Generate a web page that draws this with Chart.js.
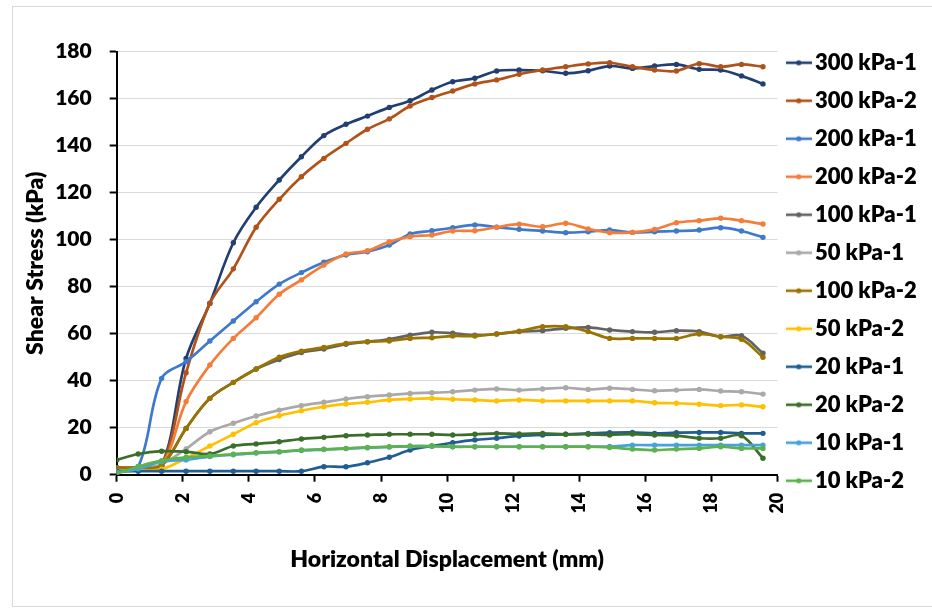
<!DOCTYPE html>
<html>
<head>
<meta charset="utf-8">
<script src="https://cdn.jsdelivr.net/npm/chart.js@4.4.1/dist/chart.umd.min.js"></script>
<style>
  html, body { margin: 0; padding: 0; background: #fff; }
  #wrap { position: relative; width: 932px; height: 608px; overflow: hidden; }
  #frame { position: absolute; left: 12px; top: 6px; right: -2px; bottom: 1px; border: 1px solid #d9d9d9; }
  canvas { position: absolute; left: 0; top: 0; }
</style>
</head>
<body>
<div id="wrap">
  <div id="frame"></div>
  <canvas id="c" width="932" height="608"></canvas>
</div>
<script>
// ---- data ----
const X_MM = [0, 0.65, 1.36, 2.10, 2.82, 3.53, 4.22, 4.92, 5.59, 6.27, 6.94, 7.59, 8.25, 8.88, 9.54,
              10.17, 10.84, 11.50, 12.18, 12.89, 13.59, 14.27, 14.92, 15.61, 16.28, 16.94, 17.63, 18.28, 18.91, 19.56];

const SERIES_NAMES = ['300 kPa-1', '300 kPa-2', '200 kPa-1', '200 kPa-2', '100 kPa-1', '50 kPa-1',
                      '100 kPa-2', '50 kPa-2', '20 kPa-1', '20 kPa-2', '10 kPa-1', '10 kPa-2'];

const S300_1 = [2.5, 2.5, 3.8, 49.5, 73.0, 98.7, 113.8, 125.4, 135.3, 144.3, 149.1, 152.6, 156.3, 159.1, 163.7,
                167.2, 168.7, 171.8, 172.2, 171.9, 170.8, 171.9, 173.9, 172.9, 173.9, 174.6, 172.5, 172.2, 169.7, 166.3];
const S300_2 = [3.0, 3.0, 4.0, 43.4, 72.9, 87.6, 105.3, 117.2, 126.8, 134.6, 141.0, 147.0, 151.4, 156.9, 160.5,
                163.3, 166.3, 168.0, 170.4, 172.2, 173.6, 174.8, 175.3, 173.6, 172.2, 171.8, 174.9, 173.6, 174.6, 173.6];
const S200_1 = [1.3, 3.4, 41.0, 48.1, 56.9, 65.4, 73.6, 81.1, 86.0, 90.4, 93.5, 94.9, 97.7, 102.4, 103.8,
                105.1, 106.3, 105.3, 104.4, 103.7, 103.0, 103.4, 104.1, 103.1, 103.4, 103.7, 104.1, 105.1, 103.7, 101.0];
const S200_2 = [3.0, 3.0, 4.0, 31.1, 46.7, 58.0, 66.8, 76.8, 82.9, 89.2, 93.9, 95.3, 99.1, 101.3, 102.0,
                103.7, 103.8, 105.3, 106.6, 105.5, 107.0, 104.6, 103.0, 103.1, 104.4, 107.2, 108.1, 109.1, 108.1, 106.7];
const S100_1 = [3.0, 3.0, 4.0, 19.7, 32.5, 39.3, 45.0, 49.0, 52.0, 53.5, 55.5, 56.6, 57.6, 59.4, 60.6,
                60.2, 59.4, 59.9, 60.9, 61.3, 62.3, 62.7, 61.6, 60.9, 60.6, 61.3, 60.9, 58.7, 59.1, 51.7];
const S50_1  = [2.0, 2.5, 4.5, 11.0, 18.3, 21.9, 25.0, 27.5, 29.4, 30.8, 32.2, 33.2, 33.9, 34.6, 34.9,
                35.3, 36.0, 36.5, 36.0, 36.5, 37.0, 36.3, 36.8, 36.3, 35.7, 36.0, 36.3, 35.6, 35.3, 34.3];
const S100_2 = [3.0, 3.0, 4.0, 19.7, 32.5, 39.3, 45.0, 50.0, 52.6, 54.2, 55.9, 56.6, 56.9, 58.0, 58.3,
                59.0, 59.0, 59.9, 61.1, 63.0, 63.0, 60.9, 58.0, 58.0, 58.0, 58.0, 59.9, 58.7, 57.6, 50.0];
const S50_2  = [1.5, 1.8, 2.3, 7.0, 12.2, 17.2, 22.1, 25.1, 27.2, 28.9, 30.1, 30.8, 31.8, 32.2, 32.5,
                32.1, 31.8, 31.4, 31.8, 31.4, 31.4, 31.4, 31.4, 31.4, 30.6, 30.4, 30.0, 29.4, 29.7, 28.9];
const S20_1  = [1.5, 1.5, 1.5, 1.5, 1.5, 1.5, 1.5, 1.5, 1.5, 3.4, 3.4, 5.1, 7.4, 10.5, 12.2,
                13.6, 14.8, 15.5, 16.5, 16.9, 17.2, 17.6, 17.9, 18.0, 17.6, 17.9, 18.0, 18.0, 17.6, 17.6];
const S20_2  = [6.3, 8.8, 10.0, 9.8, 8.8, 12.2, 13.1, 14.0, 15.2, 15.9, 16.6, 16.9, 17.2, 17.2, 17.2,
                16.9, 17.2, 17.6, 17.3, 17.6, 17.2, 17.2, 16.9, 17.3, 16.9, 16.6, 15.5, 15.5, 16.6, 7.0];
const S10_1  = [1.0, 2.5, 5.5, 6.3, 7.7, 8.5, 9.2, 9.7, 10.3, 10.7, 11.1, 11.5, 11.8, 12.0, 12.1,
                11.9, 11.9, 11.9, 11.9, 11.9, 11.9, 11.9, 12.0, 12.6, 12.6, 12.6, 12.6, 12.6, 12.6, 12.6];
const S10_2  = [0.3, 3.5, 6.0, 7.4, 8.0, 8.7, 9.4, 9.8, 10.5, 10.8, 11.2, 11.6, 11.9, 12.2, 12.2,
                11.9, 11.9, 11.9, 11.9, 11.9, 11.9, 11.9, 11.6, 10.9, 10.5, 10.9, 11.2, 11.9, 11.2, 11.2];

const SERIES_VALUES = [S300_1, S300_2, S200_1, S200_2, S100_1, S50_1, S100_2, S50_2, S20_1, S20_2, S10_1, S10_2];
const SERIES_COLORS = ['#223F73', '#B0531A', '#3F79CC', '#F47D3A', '#636363', '#A9A9A9',
                       '#9A7400', '#FFC000', '#1F5E93', '#3B6E2A', '#45A2DC', '#5DB24E'];

const X_TICKS = [0, 2, 4, 6, 8, 10, 12, 14, 16, 18, 20];
const Y_TICKS = [0, 20, 40, 60, 80, 100, 120, 140, 160, 180];
const X_TITLE = 'Horizontal Displacement (mm)';
const Y_TITLE = 'Shear Stress (kPa)';

// ---- layout constants ----
const PLOT_LEFT = 116.7, PLOT_RIGHT = 777.5, PLOT_TOP = 51.7, PLOT_BOTTOM = 474.7;
const W = 932, H = 608;
const PAD_TOP = 35.7;
const FONT = 'Lato';
const WEIGHT = 800;

function legendIcon(color) {
  const c = document.createElement('canvas');
  c.width = 26; c.height = 8;
  const g = c.getContext('2d');
  g.strokeStyle = color; g.lineWidth = 2.6;
  g.beginPath(); g.moveTo(0, 4); g.lineTo(26, 4); g.stroke();
  g.fillStyle = color;
  g.beginPath(); g.arc(13, 4, 2.6, 0, Math.PI * 2); g.fill();
  return c;
}

const fixLegendWidth = {
  id: 'fixLegendWidth',
  beforeLayout(chart) {
    const lg = chart.legend;
    if (lg && !lg.__fixed) {
      const orig = lg.fit;
      lg.fit = function () { orig.call(this); this.width = W - PLOT_RIGHT; };
      lg.__fixed = true;
    }
  }
};

function draw() {
  const icons = SERIES_COLORS.map(legendIcon);
  const n = SERIES_NAMES.length;
  const datasets = SERIES_NAMES.map((name, i) => ({
    label: name,
    data: X_MM.map((x, k) => ({ x: x, y: SERIES_VALUES[i][k] })),
    borderColor: SERIES_COLORS[i],
    backgroundColor: SERIES_COLORS[i],
    borderWidth: 2.7,
    pointRadius: 2.7,
    pointBorderWidth: 0,
    pointHoverRadius: 2.7,
    showLine: true,
    tension: 0.35,
    order: n - 1 - i
  }));

  new Chart(document.getElementById('c'), {
    type: 'scatter',
    data: { datasets },
    plugins: [fixLegendWidth],
    options: {
      responsive: false,
      animation: false,
      devicePixelRatio: 1,
      layout: { padding: { top: PAD_TOP, right: 0, bottom: 0, left: 0 } },
      plugins: {
        tooltip: { enabled: false },
        title: { display: true, text: ' ', font: { size: 10, lineHeight: 1 }, padding: { top: 0, bottom: PLOT_TOP - PAD_TOP - 10 } },
        legend: {
          display: true,
          position: 'right',
          align: 'start',
          labels: {
            usePointStyle: true,
            boxWidth: 10.5,
            padding: 16,
            color: '#000',
            font: { family: FONT, weight: WEIGHT, size: 22 },
            generateLabels(chart) {
              return chart.data.datasets.map((ds, i) => ({
                text: ds.label,
                pointStyle: icons[i],
                fillStyle: ds.borderColor,
                strokeStyle: ds.borderColor,
                lineWidth: 0,
                fontColor: '#000',
                hidden: false,
                datasetIndex: i
              }));
            }
          }
        }
      },
      scales: {
        x: {
          type: 'linear',
          position: 'bottom',
          min: X_TICKS[0],
          max: X_TICKS[X_TICKS.length - 1],
          afterBuildTicks(s) { s.ticks = X_TICKS.map(v => ({ value: v })); },
          afterFit(s) { s.height = H - PLOT_BOTTOM; },
          grid: { display: true, drawOnChartArea: false, drawTicks: true, tickLength: 7, tickColor: '#000', tickWidth: 2 },
          border: { display: true, color: '#000', width: 2 },
          ticks: {
            autoSkip: false, minRotation: 90, maxRotation: 90, padding: 11,
            color: '#000', font: { family: FONT, weight: WEIGHT, size: 18 }
          },
          title: {
            display: true, text: X_TITLE, color: '#000',
            font: { family: FONT, weight: WEIGHT, size: 23, lineHeight: 1.2 },
            padding: { top: 0, bottom: 34.2 }
          }
        },
        y: {
          type: 'linear',
          position: 'left',
          min: Y_TICKS[0],
          max: Y_TICKS[Y_TICKS.length - 1],
          afterBuildTicks(s) { s.ticks = Y_TICKS.map(v => ({ value: v })); },
          afterFit(s) { s.width = PLOT_LEFT; },
          grid: { display: true, drawOnChartArea: true, color: '#d9d9d9', lineWidth: 1, drawTicks: true, tickLength: 7, tickColor: '#000', tickWidth: 2 },
          border: { display: true, color: '#000', width: 2 },
          ticks: {
            padding: 18, color: '#000', font: { family: FONT, weight: WEIGHT, size: 21 }
          },
          title: {
            display: true, text: Y_TITLE, color: '#000',
            font: { family: FONT, weight: WEIGHT, size: 23, lineHeight: 1.2 },
            padding: { top: 21.8, bottom: 0 }
          }
        }
      }
    }
  });
}

if (document.fonts && document.fonts.load) {
  Promise.all([
    document.fonts.load('800 21px Lato'),
    document.fonts.load('800 18px Lato'),
    document.fonts.load('800 22px Lato'),
    document.fonts.load('800 23px Lato')
  ]).then(draw, draw);
} else {
  draw();
}
</script>
</body>
</html>
